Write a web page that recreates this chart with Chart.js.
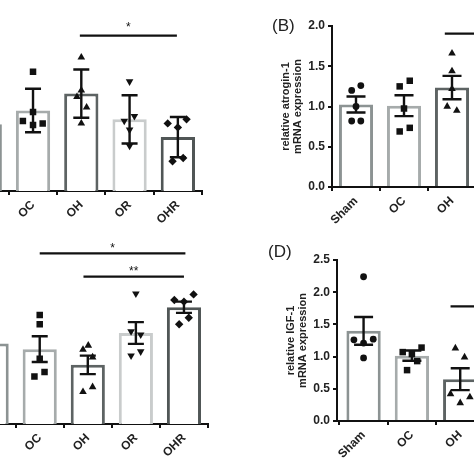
<!DOCTYPE html>
<html>
<head>
<meta charset="utf-8">
<script src="https://cdn.jsdelivr.net/npm/chart.js@4.4.1/dist/chart.umd.min.js"></script>
<style>
  body { margin: 0; background: #fff; }
  #wrap { position: relative; width: 474px; height: 474px; overflow: hidden; background: #fff; }
  #wrap canvas { position: absolute; }
  .tag { position: absolute; font: 17px "Liberation Sans", Arial, sans-serif; color: #222; line-height: 1; }
</style>
</head>
<body>
<div id="wrap">
  <canvas id="chartA"></canvas>
  <canvas id="chartB"></canvas>
  <canvas id="chartC"></canvas>
  <canvas id="chartD"></canvas>
  <div class="tag" style="left:272px;top:17px">(B)</div>
  <div class="tag" style="left:268px;top:243px">(D)</div>
</div>
<script>
const groups = ["Sham", "OC", "OH", "OR", "OHR"];

// (A) top left, title and y axis are outside the crop
const meanA = [0.83, 1.00, 1.21, 0.89, 0.67];
const errA = [null, 0.27, 0.30, 0.30, 0.25];
const dotsA = [[], [1.48, 0.98, 0.87, 0.84, 0.82], [1.66, 1.25, 1.17, 1.04, 0.84], [1.36, 0.87, 0.93, 0.76, 0.56], [0.84, 0.89, 0.79, 0.37, 0.41]];
const jitA = [[], [0, 0, -0.21, 0.2, 0], [0, 0, -0.09, 0.11, 0], [0, -0.11, 0.1, 0, 0], [-0.21, 0.18, 0, -0.11, 0.11]];
const sigA = [[1.97, 3.98, 1.93, "*"]];

// (B) atrogin-1, OR and OHR are cut off
const meanB = [1.025, 1.01, 1.235, null, null];
const errB = [0.10, 0.13, 0.145, null, null];
const dotsB = [[1.20, 1.26, 1.00, 0.82, 0.82], [1.25, 1.32, 0.975, 0.69, 0.735], [1.66, 1.44, 1.22, 1.00, 0.95], [], []];
const jitB = [[-0.09, 0.1, 0, -0.09, 0.1], [-0.09, 0.12, 0, -0.09, 0.12], [0, 0, 0, -0.1, 0.1], [], []];
const sigB = [[1.85, 4, 1.905, ""]];

// (C) bottom left
const meanC = [1.00, 0.93, 0.735, 1.13, 1.45];
const errC = [null, 0.16, 0.115, 0.135, 0.07];
const dotsC = [[], [1.355, 1.24, 0.81, 0.645, 0.59], [0.925, 0.975, 0.83, 0.40, 0.46], [1.62, 1.15, 1.11, 0.85, 0.90], [1.54, 1.61, 1.52, 1.24, 1.32]];
const jitC = [[], [0, 0, 0, 0.1, -0.11], [-0.1, 0.01, 0.1, -0.1, 0.1], [0, -0.1, 0.1, -0.1, 0.1], [-0.2, 0.2, 0, -0.1, 0.1]];
const sigC = [[1, 4.03, 2.12, "*"], [1.91, 4, 1.83, "**"]];

// (D) IGF-1
const meanD = [1.40, 1.015, 0.65, null, null];
const errD = [0.215, 0.08, 0.17, null, null];
const dotsD = [[2.24, 1.26, 1.21, 1.27, 0.98], [1.07, 1.04, 1.14, 0.93, 0.79], [1.13, 0.99, 0.42, 0.37, 0.28], [], []];
const jitD = [[0, -0.2, 0, 0.2, 0], [-0.19, 0, 0.2, 0.11, -0.1], [-0.1, 0.09, -0.2, 0.2, 0], [], []];
const sigD = [[1.8, 4, 1.78, ""]];

const yTitleB = ["relative atrogin-1", "mRNA expression"];
const yTitleD = ["relative IGF-1", "mRNA expression"];

// styling
const FONT = '"Liberation Sans", Arial, sans-serif';
const INK = "#111";
const barColors = ["#8c9393", "#a6abab", "#5d6363", "#c9cccc", "#505656"];
const shapes = ["circle", "rect", "triangle", "triangle", "rectRot"];
const turns = [0, 0, 0, 180, 0];
const sizes = { circle: 3.4, rect: 4.6, triangle: 4.4, rectRot: 4.2 };

// error bars + significance lines
const extrasPlugin = {
  id: "extras",
  afterDatasetsDraw(chart) {
    const ex = chart.options.plugins.extras;
    if (!ex) return;
    const ctx = chart.ctx;
    const xs = chart.scales.x, ys = chart.scales.y;
    ctx.save();
    ctx.strokeStyle = INK;
    ctx.lineWidth = 2.4;
    ex.mean.forEach((m, i) => {
      const e = ex.err[i];
      if (m == null || e == null) return;
      const x = xs.getPixelForValue(i);
      const y1 = ys.getPixelForValue(m + e);
      const y2 = ys.getPixelForValue(m - e);
      ctx.beginPath();
      ctx.moveTo(x, y1); ctx.lineTo(x, y2);
      ctx.moveTo(x - ex.cap, y1); ctx.lineTo(x + ex.cap, y1);
      ctx.moveTo(x - ex.cap, y2); ctx.lineTo(x + ex.cap, y2);
      ctx.stroke();
    });
    ctx.lineWidth = 2.2;
    ctx.fillStyle = INK;
    ctx.font = "12px " + FONT;
    ctx.textAlign = "center";
    ctx.textBaseline = "alphabetic";
    ex.sig.forEach(([a, b, lvl, txt]) => {
      const xa = xs.getPixelForValue(a), xb = xs.getPixelForValue(b);
      const y = ys.getPixelForValue(lvl);
      ctx.beginPath();
      ctx.moveTo(xa, y); ctx.lineTo(xb, y);
      ctx.stroke();
      if (txt) ctx.fillText(txt, (xa + xb) / 2, y - ex.starGap + 7);
    });
    ctx.restore();
  }
};

function makePanel(id, p) {
  const yw = p.yTitle ? 56 : 0;
  const padL = 4, padR = 10, padT = 32, xh = 55, padB = 4;
  const canvas = document.getElementById(id);
  const w = padL + yw + p.area[2] + padR;
  const h = padT + p.area[3] + xh + padB;
  canvas.width = Math.round(w);
  canvas.height = Math.round(h);
  canvas.style.left = (p.area[0] - yw - padL) + "px";
  canvas.style.top = (p.area[1] - padT) + "px";

  const datasets = [{
    type: "bar",
    data: p.mean.map((v, i) => ({ x: i, y: v })),
    backgroundColor: "#fff",
    borderColor: barColors,
    borderWidth: 3,
    barPercentage: 0.71,
    categoryPercentage: 1,
    order: 2
  }];
  p.dots.forEach((vals, i) => {
    if (!vals.length) return;
    datasets.push({
      type: "scatter",
      data: vals.map((v, k) => ({ x: i + p.jit[i][k], y: v })),
      pointStyle: shapes[i],
      rotation: turns[i],
      pointRadius: sizes[shapes[i]],
      backgroundColor: INK,
      borderColor: INK,
      borderWidth: 0,
      order: 1
    });
  });

  const axisGrid = { display: true, drawOnChartArea: false, drawTicks: true, tickLength: 4, color: INK, lineWidth: 2 };

  new Chart(canvas, {
    type: "bar",
    data: { datasets },
    options: {
      responsive: false,
      animation: false,
      layout: { padding: { left: padL, right: padR, top: padT, bottom: padB } },
      plugins: {
        legend: { display: false },
        tooltip: { enabled: false },
        extras: { mean: p.mean, err: p.err, sig: p.sig, cap: p.cap, starGap: p.starGap }
      },
      scales: {
        x: {
          type: "linear",
          offset: false,
          min: p.xMin,
          max: 4.5,
          grid: axisGrid,
          border: { display: true, color: INK, width: 2 },
          afterBuildTicks: (s) => { s.ticks = groups.map((g, i) => ({ value: i })); },
          afterFit: (s) => { s.height = xh; s.paddingLeft = 0; s.paddingRight = 0; },
          ticks: {
            autoSkip: false,
            minRotation: 45,
            maxRotation: 45,
            padding: 3,
            color: "#222",
            font: { family: FONT, size: 12, weight: "bold" },
            callback: (v) => groups[v] ?? ""
          }
        },
        y: {
          display: !!p.yTitle,
          min: 0,
          max: p.yMax,
          grid: axisGrid,
          border: { display: true, color: INK, width: 2 },
          afterFit: (s) => { s.width = yw; s.paddingTop = 0; s.paddingBottom = 0; },
          ticks: {
            stepSize: 0.5,
            padding: 3,
            color: "#222",
            font: { family: FONT, size: 12, weight: "bold" },
            callback: (v) => v.toFixed(1)
          },
          title: {
            display: !!p.yTitle,
            text: p.yTitle || "",
            color: "#222",
            padding: { top: 4, bottom: 0 },
            font: { family: FONT, size: 11, weight: "bold", lineHeight: 1.1 }
          }
        }
      }
    },
    plugins: [extrasPlugin]
  });
}

makePanel("chartA", { area: [-40, 29.6, 241.5, 161.4], xMin: -0.5, yMax: 2, mean: meanA, err: errA, dots: dotsA, jit: jitA, sig: sigA, cap: 8, starGap: 12 });
makePanel("chartB", { area: [331.5, 25.7, 240, 161.3], xMin: -0.5, yMax: 2, mean: meanB, err: errB, dots: dotsB, jit: jitB, sig: sigB, cap: 9.5, starGap: 12, yTitle: yTitleB });
makePanel("chartC", { area: [-33, 262.6, 241, 161.4], xMin: -0.5, yMax: 2, mean: meanC, err: errC, dots: dotsC, jit: jitC, sig: sigC, cap: 8, starGap: 8.5 });
makePanel("chartD", { area: [336.5, 259.7, 244, 161], xMin: -0.55, yMax: 2.5, mean: meanD, err: errD, dots: dotsD, jit: jitD, sig: sigD, cap: 9.5, starGap: 12, yTitle: yTitleD });
</script>
</body>
</html>
